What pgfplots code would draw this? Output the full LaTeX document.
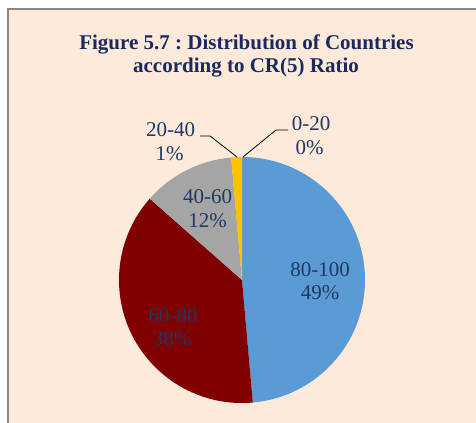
\documentclass[border=0pt]{standalone}
\usepackage{pgfplots}
\usepackage{pgfplotstable}
\pgfplotsset{compat=1.18}
\usepackage{fontspec}
\setmainfont{Liberation Serif}
\frenchspacing
\definecolor{bgpeach}{RGB}{253,234,218}
\definecolor{framegray}{RGB}{134,134,134}
\definecolor{pieblue}{RGB}{91,155,213}
\definecolor{piered}{RGB}{128,0,0}
\definecolor{piegray}{RGB}{165,165,165}
\definecolor{piegold}{RGB}{255,192,0}
\definecolor{pieblue2}{RGB}{68,114,196}
\definecolor{titlenavy}{RGB}{24,42,94}
\definecolor{labnavy}{RGB}{31,56,100}

\pgfplotstableread{
label  value color
80-100 48.6  pieblue
60-80  37.9  piered
40-60  12.1  piegray
20-40  1.4   piegold
0-20   0.0   pieblue2
}\piedata

\begin{document}
\begin{tikzpicture}
\path[use as bounding box] (0,0) rectangle (476bp,423bp);
\fill[bgpeach] (8bp,0) rectangle (476bp,414bp);
\draw[framegray, line width=1.3bp] (8bp,0) -- (8bp,414bp) -- (476bp,414bp);
\node[anchor=base, text=titlenavy, font=\fontsize{21bp}{23bp}\selectfont\bfseries\frenchspacing] at (246.5bp,373bp) {Figure 5.7 : Distribution of Countries};
\node[anchor=base, text=titlenavy, font=\fontsize{21bp}{23bp}\selectfont\bfseries\frenchspacing] at (246bp,350bp) {according to CR(5) Ratio};
\begin{axis}[
  at={(0,0)}, anchor=south west,
  scale only axis, width=476bp, height=423bp,
  xmin=0, xmax=476, ymin=0, ymax=423,
  hide axis, clip=false,
]
\pgfplotsextra{
  \gdef\cum{90}
  \foreach \i in {0,...,4}{
    \pgfplotstablegetelem{\i}{value}\of\piedata \let\v\pgfplotsretval
    \pgfplotstablegetelem{\i}{color}\of\piedata \let\c\pgfplotsretval
    \pgfmathsetmacro\e{\cum-3.6*\v}
    \ifdim \v pt>0pt
      \fill[\c] (axis cs:242,143) -- ++(\cum:123bp) arc[start angle=\cum, end angle=\e, radius=123bp] -- cycle;
    \fi
    \global\let\cum\e
  }
}
\draw[black, line width=0.8bp] (axis cs:200,287) -- (axis cs:210,287) -- (axis cs:237,266);
\draw[black, line width=0.8bp] (axis cs:243,266) -- (axis cs:276,293) -- (axis cs:288,293);
\begin{scope}[every node/.style={anchor=base, text=labnavy, font=\fontsize{21bp}{23bp}\selectfont, inner sep=0pt}]
\node at (axis cs:320,146) {80-100};
\node at (axis cs:320,123) {49\%};
\node at (axis cs:173,100.3) {60-80};
\node at (axis cs:172,77) {38\%};
\node at (axis cs:207.5,219) {40-60};
\node at (axis cs:207.5,195.3) {12\%};
\node at (axis cs:170.5,286.3) {20-40};
\node at (axis cs:169.5,262) {1\%};
\node at (axis cs:311,292.3) {0-20};
\node at (axis cs:309.5,268) {0\%};
\end{scope}
\end{axis}
\end{tikzpicture}
\end{document}
